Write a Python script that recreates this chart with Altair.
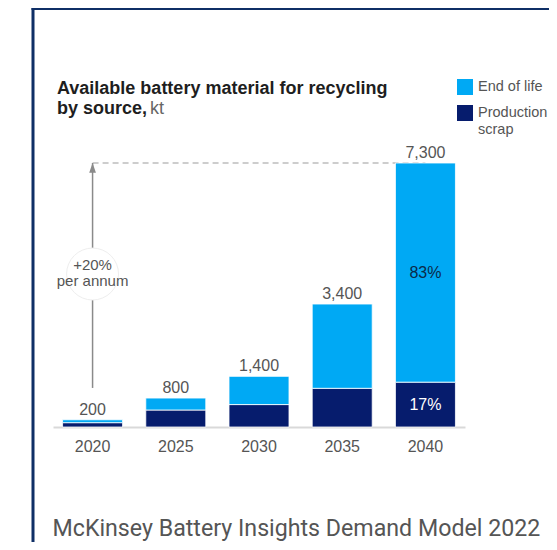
import altair as alt
import pandas as pd

# ---------------- data ----------------
years = ["2020", "2025", "2030", "2035", "2040"]
sources = ["End of life", "Production scrap"]
end_of_life = [80, 330, 780, 2330, 6060]
production_scrap = [120, 470, 620, 1070, 1240]
totals = [200, 800, 1400, 3400, 7300]
share_labels_2040 = ["83%", "17%"]  # End of life, Production scrap

title_text = "Available battery material for recycling\nby source,"
unit_text = "kt"
growth_text = "+20%\nper annum"
source_note = "McKinsey Battery Insights Demand Model 2022"

# annotation levels in kt
arrow_start_kt = 1080
growth_text_kt = 4340
growth_circle_kt = 4230

LIGHT = "#00A9F4"
NAVY = "#061C6D"
GREY_TXT = "#555555"
FONT = "Liberation Sans"

rows = []
for i, yr in enumerate(years):
    rows.append({"year": yr, "source": "Production scrap", "value": production_scrap[i], "order": 0})
    rows.append({"year": yr, "source": "End of life", "value": end_of_life[i], "order": 1})
bars_df = pd.DataFrame(rows)
totals_df = pd.DataFrame({"year": years, "total": totals})
share_df = pd.DataFrame({
    "year": [years[-1], years[-1]],
    "source": ["End of life", "Production scrap"],
    "mid": [production_scrap[-1] + end_of_life[-1] / 2, production_scrap[-1] / 2],
    "label": share_labels_2040,
})
growth_df = pd.DataFrame({
    "year": [years[0]],
    "year_end": [years[-1]],
    "start": [arrow_start_kt],
    "end": [totals[-1]],
    "text_at": [growth_text_kt],
    "circle_at": [growth_circle_kt],
    "text": [growth_text],
})
frame_df = pd.DataFrame({"k": [0]})

# ---------------- encodings ----------------
x_scale = alt.Scale(domain=years, paddingInner=0.279, paddingOuter=0.115)
x_axis = alt.Axis(
    title=source_note, labelFont=FONT, labelFontSize=16, labelColor=GREY_TXT,
    labelPadding=11, ticks=False, labelAngle=0,
    domainColor="#d9d9d9", domainWidth=2,
    titleFont="Roboto", titleFontSize=23.2, titleFontWeight="normal", titleColor=GREY_TXT,
    titleX=-1, titleY=108, titleAlign="left", titleBaseline="alphabetic", titleAnchor="start",
)
y_scale = alt.Scale(domain=[0, totals[-1]], nice=False, zero=True)


def X(field="year"):
    return alt.X(f"{field}:N", scale=x_scale, axis=x_axis)


def Y(field):
    return alt.Y(f"{field}:Q", scale=y_scale, axis=None)


color_scale = alt.Scale(domain=sources, range=[LIGHT, NAVY])

# ---------------- layers ----------------
frame_left = alt.Chart(frame_df).mark_rule(color="#0F2F66", strokeWidth=3).encode(
    x=alt.value(-20), y=alt.value(-156), y2=alt.value(380)
)
frame_top = alt.Chart(frame_df).mark_rule(color="#0F2F66", strokeWidth=3).encode(
    x=alt.value(-21.5), x2=alt.value(500), y=alt.value(-154.5)
)

title_lbl = alt.Chart(frame_df).mark_text(
    text=title_text, lineBreak="\n", lineHeight=20, font=FONT, fontSize=18, fontWeight="bold",
    color="#1e1e1e", align="left", baseline="alphabetic"
).encode(x=alt.value(4), y=alt.value(-69))
unit_lbl = alt.Chart(frame_df).mark_text(
    text=unit_text, font=FONT, fontSize=18, color="#666666", align="left", baseline="alphabetic"
).encode(x=alt.value(97), y=alt.value(-49))

dashed = alt.Chart(growth_df).mark_rule(color="#bdbdbd", strokeWidth=1.3, strokeDash=[6, 4]).encode(
    x=X("year"), x2="year_end", y=Y("end")
)
arrow = alt.Chart(growth_df).mark_rule(color="#8a8a8a", strokeWidth=1.5).encode(
    x=X("year"), y=Y("start"), y2="end"
)
arrow_head = alt.Chart(growth_df).mark_point(
    shape="M0,0L-0.45,1.3L0.45,1.3Z", filled=True, color="#8a8a8a", size=225, opacity=1
).encode(x=X("year"), y=Y("end"))
circle = alt.Chart(growth_df).mark_point(
    shape="circle", filled=True, fill="white", stroke="#eeeeee", strokeWidth=1, size=2700, opacity=1
).encode(x=X("year"), y=Y("circle_at"))
growth_lbl = alt.Chart(growth_df).mark_text(
    font=FONT, fontSize=15, color=GREY_TXT, baseline="alphabetic", lineBreak="\n", lineHeight=16
).encode(x=X("year"), y=Y("text_at"), text="text:N")

bars = alt.Chart(bars_df).mark_bar(stroke="white", strokeWidth=0.8).encode(
    x=X("year"),
    y=alt.Y("value:Q", stack="zero", scale=y_scale, axis=None),
    color=alt.Color(
        "source:N", scale=color_scale,
        legend=alt.Legend(
            title=None, orient="none", legendX=404, legendY=-84,
            symbolType="square", symbolSize=256, symbolStrokeWidth=0,
            labelFont=FONT, labelFontSize=14.5, labelColor=GREY_TXT,
            rowPadding=10, labelOffset=5, padding=0, labelLimit=200,
            labelExpr="datum.label == 'Production scrap' ? ['Production', 'scrap'] : datum.label",
        ),
    ),
    order=alt.Order("order:Q"),
)

total_lbl = alt.Chart(totals_df).mark_text(
    font=FONT, fontSize=16, color=GREY_TXT, baseline="alphabetic", dy=-5
).encode(x=X("year"), y=Y("total"), text=alt.Text("total:Q", format=","))

share_lbl = alt.Chart(share_df).mark_text(font=FONT, fontSize=16, baseline="middle").encode(
    x=X("year"), y=Y("mid"), text="label:N",
    color=alt.condition("datum.source == 'End of life'", alt.value("#0B2A48"), alt.value("white")),
)

chart = alt.layer(
    frame_left, frame_top, title_lbl, unit_lbl, dashed, arrow, circle, arrow_head, growth_lbl,
    bars, total_lbl, share_lbl,
).properties(
    width=412, height=264,
    autosize=alt.AutoSizeParams(type="none"),
    padding={"left": 45, "top": 155, "right": 84, "bottom": 115},
).configure_view(strokeWidth=0)

chart.save("out.html", embed_options={"renderer": "svg", "actions": False})
